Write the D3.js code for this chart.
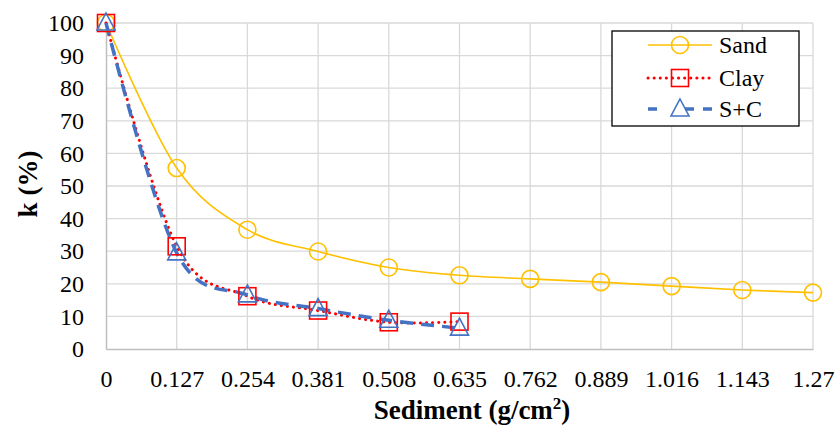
<!DOCTYPE html>
<html>
<head>
    <meta charset="utf-8">
    <style type="text/css">
        body { margin: 0; background-color: #fff; }
        svg text { font-family: 'Liberation Serif' !important; }
        .grid line { stroke: #d9d9d9; stroke-width: 1.3px; }
    </style>
    <script src="https://d3js.org/d3.v7.min.js"></script>
</head>
<body>
    <div id="canvas"></div>
    <script type="text/javascript">

        var width = 838, height = 425;
        var serif = "Liberation Serif";

        // data
        var xTicks = [0, 0.127, 0.254, 0.381, 0.508, 0.635, 0.762, 0.889, 1.016, 1.143, 1.27];
        var sandX = [0, 0.127, 0.254, 0.381, 0.508, 0.635, 0.762, 0.889, 1.016, 1.143, 1.27];
        var sandK = [100, 55.5, 36.6, 29.9, 25.0, 22.6, 21.5, 20.5, 19.3, 18.1, 17.3];
        var clayX = [0, 0.127, 0.254, 0.381, 0.508, 0.635];
        var clayK = [100, 31.5, 16.2, 11.8, 8.2, 8.4];
        var scX = [0, 0.127, 0.254, 0.381, 0.508, 0.635];
        var scK = [100, 29.5, 16.6, 12.4, 8.8, 6.4];
        var yTicks = [0, 10, 20, 30, 40, 50, 60, 70, 80, 90, 100];

        var plotL = 106, plotR = 813, plotT = 23, plotB = 349;

        var svg = d3.select("#canvas")
            .append("svg")
            .attr("width", width)
            .attr("height", height)
            .attr("font-family", serif);

        var x = d3.scaleLinear().domain([0, 1.27]).range([plotL, plotR]);
        var y = d3.scaleLinear().domain([0, 100]).range([plotB, plotT]);

        //gridlines
        svg.append("g").attr("class", "grid")
            .selectAll("line").data(yTicks.slice(1)).enter().append("line")
            .attr("x1", plotL).attr("x2", plotR)
            .attr("y1", function(d) { return y(d); }).attr("y2", function(d) { return y(d); });
        svg.append("g").attr("class", "grid")
            .selectAll("line").data(xTicks.slice(1)).enter().append("line")
            .attr("y1", plotT).attr("y2", plotB)
            .attr("x1", function(d) { return x(d); }).attr("x2", function(d) { return x(d); });

        //axes
        var xAxis = svg.append("g")
            .attr("transform", "translate(0," + plotB + ")")
            .call(d3.axisBottom(x).tickValues(xTicks).tickSize(0).tickPadding(21)
                .tickFormat(function(d) { return String(d); }));
        xAxis.select(".domain").attr("stroke", "#bfbfbf").attr("stroke-width", 1.5);

        var yAxis = svg.append("g")
            .attr("transform", "translate(" + plotL + ",0)")
            .call(d3.axisLeft(y).tickValues(yTicks).tickSize(0).tickPadding(22));
        yAxis.select(".domain").attr("stroke", "#bfbfbf").attr("stroke-width", 1.5);
        xAxis.attr("font-family", serif).attr("font-size", 24);
        yAxis.attr("font-family", serif).attr("font-size", 24);
        svg.selectAll(".tick text")
            .attr("fill", "#000")
            .attr("font-family", serif)
            .attr("font-size", 24);

        //axis titles
        svg.append("text")
            .attr("x", 472).attr("y", 419)
            .attr("text-anchor", "middle")
            .attr("font-family", serif)
            .attr("font-size", 27).attr("font-weight", "bold")
            .html("Sediment (g/cm<tspan dy='-10' font-size='17px'>2</tspan><tspan dy='10'>)</tspan>");
        svg.append("text")
            .attr("transform", "translate(37,184) rotate(-90)")
            .attr("text-anchor", "middle")
            .attr("font-family", serif)
            .attr("font-size", 27).attr("font-weight", "bold")
            .text("k (%)");

        var smooth = d3.line()
            .x(function(d) { return x(d[0]); })
            .y(function(d) { return y(d[1]); })
            .curve(d3.curveCatmullRom.alpha(0));

        var series = [
            { name: "Sand", pts: d3.zip(sandX, sandK), color: "#ffc000", width: 1.6, dash: null, cap: "butt", marker: "circle" },
            { name: "Clay", pts: d3.zip(clayX, clayK), color: "#ff0000", width: 3, dash: "0.1,6", cap: "round", marker: "square" },
            { name: "S+C", pts: d3.zip(scX, scK), color: "#4472c4", width: 3.5, dash: "13,8", cap: "butt", marker: "triangle" }
        ];

        function drawMarker(g, type, cx, cy, color) {
            if (type === "circle") {
                g.append("circle").attr("cx", cx).attr("cy", cy).attr("r", 8.5)
                    .attr("fill", "none").attr("stroke", color).attr("stroke-width", 1.6);
            } else if (type === "square") {
                g.append("rect").attr("x", cx - 8.5).attr("y", cy - 8.5).attr("width", 17).attr("height", 17)
                    .attr("fill", "none").attr("stroke", color).attr("stroke-width", 1.6);
            } else {
                g.append("path")
                    .attr("d", "M" + cx + "," + (cy - 10) + "L" + (cx + 9) + "," + (cy + 7) + "L" + (cx - 9) + "," + (cy + 7) + "Z")
                    .attr("fill", "none").attr("stroke", color).attr("stroke-width", 1.6);
            }
        }

        series.forEach(function(s) {
            svg.append("path")
                .datum(s.pts)
                .attr("d", smooth)
                .attr("fill", "none")
                .attr("stroke", s.color)
                .attr("stroke-width", s.width)
                .attr("stroke-linecap", s.cap)
                .attr("stroke-dasharray", s.dash);
        });
        series.forEach(function(s) {
            var g = svg.append("g");
            s.pts.forEach(function(p) { drawMarker(g, s.marker, x(p[0]), y(p[1]), s.color); });
        });

        //legend
        var legend = svg.append("g");
        legend.append("rect")
            .attr("x", 612).attr("y", 31).attr("width", 187).attr("height", 95)
            .attr("fill", "#fff").attr("stroke", "#000").attr("stroke-width", 1.3);
        var rowY = [45, 78, 109];
        series.forEach(function(s, i) {
            legend.append("line")
                .attr("x1", 648).attr("x2", 712).attr("y1", rowY[i]).attr("y2", rowY[i])
                .attr("stroke", s.color).attr("stroke-width", s.width)
                .attr("stroke-linecap", s.cap)
                .attr("stroke-dasharray", s.name === "S+C" ? "9,18,0,10,9" : s.dash);
            drawMarker(legend, s.marker, 680, rowY[i], s.color);
            legend.append("text")
                .attr("x", 719).attr("y", rowY[i] + 8)
                .attr("font-family", serif)
                .attr("font-size", 24)
                .attr("fill", "#000")
                .text(s.name);
        });

    </script>
</body>
</html>
